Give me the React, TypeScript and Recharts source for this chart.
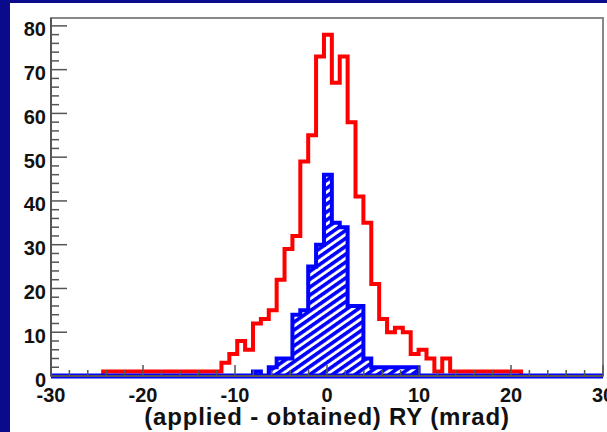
import { Area, ComposedChart, Line, ReferenceArea, ReferenceLine, XAxis, YAxis } from 'recharts';

// histogram binning: 6/7 mrad bins, edges offset from zero
const BIN_START = -0.33;
const BIN_WIDTH = 6 / 7;
const FIRST_BIN = -35;

// counts per bin, bin index -35 .. 34
const RED_COUNTS = [
  0, 0, 0, 0, 0, 0, 0,
  1, 1, 1, 1, 1, 1, 1, 1, 1, 1, 1, 1, 1, 1, 1,
  3, 5, 8, 6, 12, 13, 15, 22, 29, 32, 49, 55, 73,
  78, 67, 73, 58, 41, 35, 21, 13, 10, 11, 10, 5, 6, 4, 1, 4,
  1, 1, 1, 1, 1, 1, 1, 1, 1,
  0, 0, 0, 0, 0, 0, 0, 0, 0, 0,
];
const BLUE_COUNTS = [
  0, 0, 0, 0, 0, 0, 0, 0, 0, 0, 0, 0, 0, 0, 0, 0, 0, 0, 0, 0, 0, 0, 0, 0, 0, 0,
  1, 0, 2, 4, 4, 14, 15, 25, 30,
  46, 35, 34, 16, 16, 4, 2, 2, 2, 2, 2, 2,
  0, 0, 0, 0, 0, 0, 0, 0, 0, 0, 0, 0, 0, 0, 0, 0, 0, 0, 0, 0, 0, 0, 0,
];

const X_LABELS = [-30, -20, -10, 0, 10, 20, 30];
const Y_LABELS = [0, 10, 20, 30, 40, 50, 60, 70, 80];
const MINOR_STEP = 2;
const X_RANGE: [number, number] = [-30, 30];
const Y_RANGE: [number, number] = [0, 81.8];
const X_TITLE = '(applied - obtained) RY (mrad)';

const NAVY = '#0a0a8c';
const FONT = '"Liberation Sans", Arial, Helvetica, sans-serif';
const W = 597;
const H = 429;
const PLOT_LEFT = 41;
const PLOT_RIGHT = 4;
const PLOT_BOTTOM = 373;
const AXIS_GREY = '#555';

const minorTicks = (lo: number, hi: number) => {
  const out: number[] = [];
  for (let v = lo; v <= hi + 1e-9; v += MINOR_STEP) out.push(v);
  return out;
};

const rows = RED_COUNTS.map((red, i) => ({
  x: Math.max(X_RANGE[0], BIN_START + (FIRST_BIN + i) * BIN_WIDTH),
  red,
  blue: BLUE_COUNTS[i],
}));
rows.push({ x: X_RANGE[1], red: 0, blue: 0 });

function YTick(props: any) {
  const { y, payload } = props;
  const v = payload.value as number;
  const major = Y_LABELS.includes(v);
  return (
    <g>
      <line x1={PLOT_LEFT} x2={PLOT_LEFT + (major ? 16 : 8)} y1={y} y2={y} stroke={AXIS_GREY} strokeWidth={1.5} />
      {major && (
        <text x={PLOT_LEFT - 5} y={y + 3.5} textAnchor="end" dominantBaseline="central"
          fontFamily={FONT} fontWeight="bold" fontSize={20} fill="#111">
          {v}
        </text>
      )}
    </g>
  );
}

function XTick(props: any) {
  const { x, payload } = props;
  const v = payload.value as number;
  const major = X_LABELS.includes(v);
  return (
    <g>
      <line x1={x} x2={x} y1={PLOT_BOTTOM} y2={PLOT_BOTTOM - (major ? 11 : 6)} stroke={AXIS_GREY} strokeWidth={1.5} />
      {major && (
        <text x={x} y={PLOT_BOTTOM + 26} textAnchor="middle"
          fontFamily={FONT} fontWeight="bold" fontSize={20} fill="#111">
          {v}
        </text>
      )}
    </g>
  );
}

export default function App() {
  const plotCentre = (PLOT_LEFT + W - PLOT_RIGHT) / 2;
  return (
    <div style={{ position: 'absolute', left: 0, top: 0, width: 607, height: 432, background: NAVY, overflow: 'hidden' }}>
      <div style={{ position: 'absolute', left: 10, top: 3, width: W, height: H, background: '#fff' }}>
        <ComposedChart width={W} height={H} data={rows} margin={{ top: 15, right: PLOT_RIGHT, bottom: 0, left: 0 }}>
          <defs>
            <pattern id="hatch" patternUnits="userSpaceOnUse" width={8} height={6.5} patternTransform="rotate(-35)">
              <rect width={8} height={6.5} fill="#fff" />
              <rect width={8} height={3.6} fill="#0000ff" />
            </pattern>
          </defs>
          <XAxis
            type="number"
            dataKey="x"
            domain={X_RANGE}
            ticks={minorTicks(X_RANGE[0], X_RANGE[1])}
            interval={0}
            tick={<XTick />}
            tickLine={false}
            axisLine={{ stroke: AXIS_GREY, strokeWidth: 2 }}
            height={56}
          />
          <YAxis
            type="number"
            domain={Y_RANGE}
            ticks={minorTicks(0, 80)}
            interval={0}
            tick={<YTick />}
            tickLine={false}
            axisLine={{ stroke: AXIS_GREY, strokeWidth: 2 }}
            width={PLOT_LEFT}
          />
          <ReferenceArea x1={X_RANGE[0]} x2={X_RANGE[1]} y1={Y_RANGE[0]} y2={Y_RANGE[1]}
            fill="none" stroke="#888" strokeWidth={2} />
          <Line type="stepAfter" dataKey="red" stroke="#ff0000" strokeWidth={4} dot={false}
            isAnimationActive={false} zIndex={400} />
          <Area type="stepAfter" dataKey="blue" stroke="#0000ff" strokeWidth={4} fill="url(#hatch)"
            fillOpacity={1} baseValue={0} isAnimationActive={false} zIndex={450} />
          <ReferenceLine y={0} stroke="#0000ff" strokeWidth={5} zIndex={460} />
        </ComposedChart>
        <div style={{
          position: 'absolute', left: 0, width: 2 * plotCentre, top: 405,
          textAlign: 'center', fontFamily: FONT, fontWeight: 'bold', fontSize: 24, color: '#111',
          lineHeight: '18px', letterSpacing: 0.8, whiteSpace: 'nowrap',
        }}>
          {X_TITLE}
        </div>
      </div>
    </div>
  );
}
